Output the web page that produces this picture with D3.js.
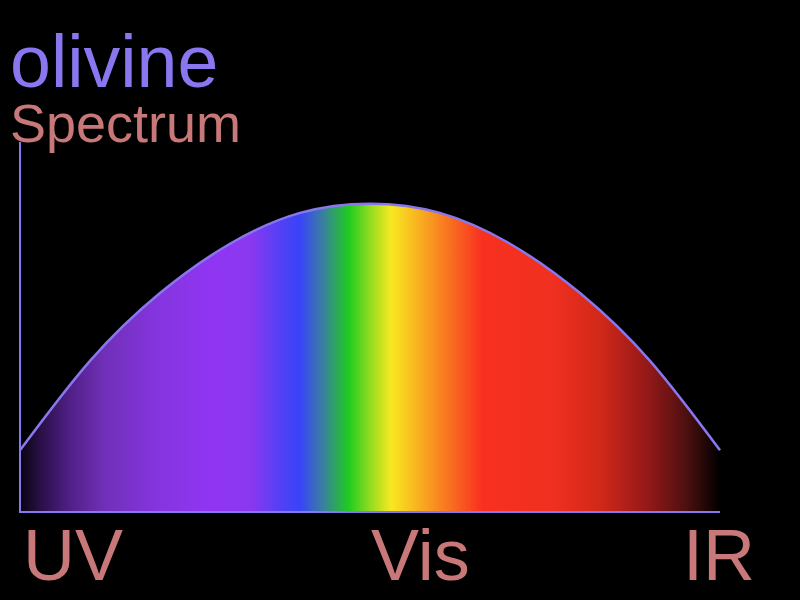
<!DOCTYPE html>
<html>
<head>
<meta charset="utf-8">
<script src="https://cdn.jsdelivr.net/npm/d3@7"></script>
<style>
  html, body { margin: 0; padding: 0; background: #000; }
  svg { display: block; }
</style>
</head>
<body>
<svg id="chart" width="800" height="600"></svg>
<script>
// ---- data ----
const title = "olivine";
const subtitle = "Spectrum";
const positions = [0, 0.1, 0.2, 0.3, 0.4, 0.5, 0.6, 0.7, 0.8, 0.9, 1.0];
const intensity = [0.20, 0.49, 0.71, 0.87, 0.97, 1.00, 0.97, 0.87, 0.71, 0.49, 0.20];
const tickLabels = ["UV", "Vis", "IR"];
const tickPositions = [0, 0.5, 1];
const gradientOffsets = [0, 0.03, 0.07, 0.12, 0.2, 0.27, 0.33, 0.37, 0.40, 0.43, 0.47, 0.50, 0.53, 0.57, 0.62, 0.66, 0.76, 0.83, 0.90, 0.95, 1.0];
const gradientColors = ["#08040f", "#2a1048", "#4f1f85", "#7030b8", "#8535e0", "#9035f2", "#8a38f0", "#5540f5", "#3844f8", "#3a7aa8", "#20cc20", "#90dc20", "#f8e820", "#f8b020", "#f86820", "#f83020", "#f03020", "#d02818", "#901818", "#501010", "#000000"];

const axisColor = "#8877ee";
const labelColor = "#c87878";

const svg = d3.select("#chart");
svg.append("rect").attr("width", 800).attr("height", 600).attr("fill", "#000");

const x = d3.scaleLinear().domain([0, 1]).range([20, 720]);
const y = d3.scaleLinear().domain([0, 1.2]).range([512, 142]);

const data = positions.map((p, i) => ({ p, v: intensity[i] }));

// gradient
const defs = svg.append("defs");
const grad = defs.append("linearGradient")
  .attr("id", "spec")
  .attr("gradientUnits", "userSpaceOnUse")
  .attr("x1", x(0)).attr("x2", x(1)).attr("y1", 0).attr("y2", 0);
grad.selectAll("stop").data(gradientOffsets).join("stop")
  .attr("offset", d => d)
  .attr("stop-color", (d, i) => gradientColors[i]);

const area = d3.area()
  .x(d => x(d.p))
  .y0(y(0))
  .y1(d => y(d.v))
  .curve(d3.curveNatural);

const line = d3.line()
  .x(d => x(d.p))
  .y(d => y(d.v))
  .curve(d3.curveNatural);

svg.append("path").datum(data)
  .attr("d", area)
  .attr("fill", "url(#spec)");

svg.append("path").datum(data)
  .attr("d", line)
  .attr("fill", "none")
  .attr("stroke", axisColor)
  .attr("stroke-width", 2.5);

// axes
svg.append("line")
  .attr("x1", x(0)).attr("x2", x(0))
  .attr("y1", y(1.2)).attr("y2", y(0))
  .attr("stroke", axisColor).attr("stroke-width", 2);
svg.append("line")
  .attr("x1", x(0) - 1).attr("x2", x(1))
  .attr("y1", y(0)).attr("y2", y(0))
  .attr("stroke", axisColor).attr("stroke-width", 2);

// tick labels
const offsets = [3, 1, -37];
svg.selectAll("text.tick").data(tickLabels).join("text")
  .attr("class", "tick")
  .attr("x", (d, i) => x(tickPositions[i]) + offsets[i])
  .attr("y", 580)
  .attr("fill", labelColor)
  .attr("font-family", "Liberation Sans, Arial, sans-serif")
  .attr("font-size", 72)
  .text(d => d);

// titles
svg.append("text")
  .attr("x", 10).attr("y", 87)
  .attr("fill", axisColor)
  .attr("font-family", "Liberation Sans, Arial, sans-serif")
  .attr("font-size", 73.5)
  .text(title);
svg.append("text")
  .attr("x", 10).attr("y", 142)
  .attr("fill", labelColor)
  .attr("font-family", "Liberation Sans, Arial, sans-serif")
  .attr("font-size", 54)
  .text(subtitle);
</script>
</body>
</html>
